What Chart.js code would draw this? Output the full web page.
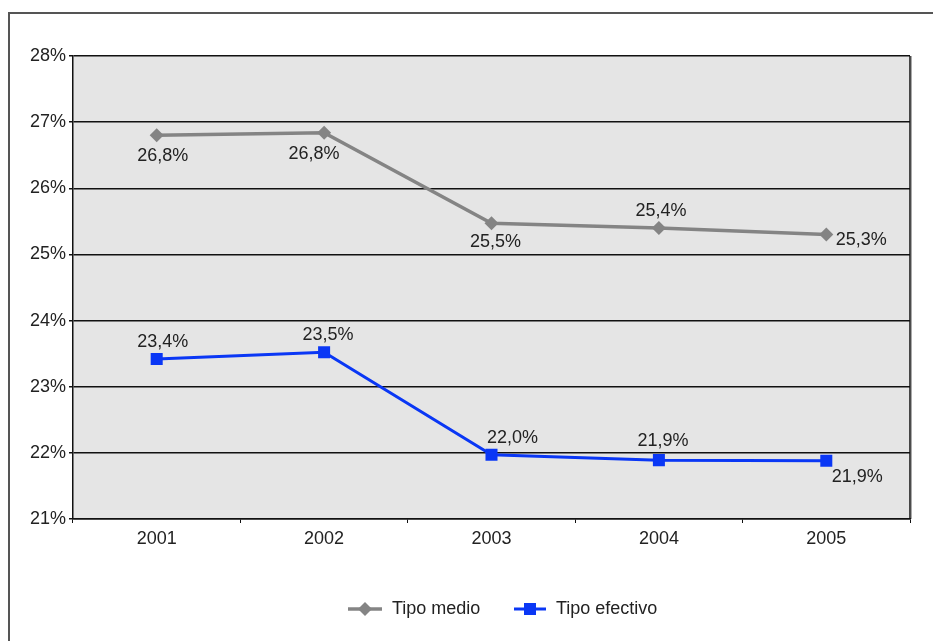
<!DOCTYPE html>
<html>
<head>
<meta charset="utf-8">
<script src="https://cdn.jsdelivr.net/npm/chart.js@4/dist/chart.umd.min.js"></script>
<style>
    body { margin: 0; background: #fff; overflow: hidden; }
</style>
</head>
<body>
<canvas id="tiposChart" width="933" height="641"></canvas>
<script>
// Data
const years = ['2001', '2002', '2003', '2004', '2005'];
const tipoMedio = [26.80, 26.84, 25.47, 25.40, 25.30];
const tipoEfectivo = [23.42, 23.52, 21.97, 21.89, 21.88];
const yTicks = [21, 22, 23, 24, 25, 26, 27, 28];

const FONT = '"Liberation Sans", Arial, sans-serif';
const GRAY = '#848484';
const BLUE = '#0a37f5';

// where each value label sits relative to its point
const labelPlacement = [
    [[6, 21], [-10, 21], [4, 19], [2, -17], [35, 5]],
    [[6, -17], [4, -17], [21, -17], [4, -19], [31, 16]]
];

function fmt(v) {
    return v.toFixed(1).replace('.', ',') + '%';
}

// outer frame, grey plot background and right edge
const plotBackground = {
    id: 'plotBackground',
    beforeDraw(chart) {
        const { ctx, chartArea: a, width, height } = chart;
        ctx.save();
        ctx.strokeStyle = '#555';
        ctx.lineWidth = 2;
        ctx.beginPath();
        ctx.moveTo(9, height + 5);
        ctx.lineTo(9, 13);
        ctx.lineTo(width + 5, 13);
        ctx.stroke();
        ctx.fillStyle = '#e5e5e5';
        ctx.fillRect(a.left, a.top, a.right - a.left, a.bottom - a.top);
        ctx.restore();
    },
    afterDatasetsDraw(chart) {
        const { ctx, chartArea: a } = chart;
        ctx.save();
        ctx.strokeStyle = '#aaa';
        ctx.lineWidth = 1;
        ctx.beginPath();
        ctx.moveTo(a.right + 1.5, a.top);
        ctx.lineTo(a.right + 1.5, a.bottom);
        ctx.stroke();
        ctx.strokeStyle = '#111';
        ctx.lineWidth = 1.5;
        ctx.beginPath();
        ctx.moveTo(a.right, a.top);
        ctx.lineTo(a.right, a.bottom);
        ctx.stroke();
        ctx.restore();
    }
};

// value labels next to the points
const valueLabels = {
    id: 'valueLabels',
    afterDatasetsDraw(chart) {
        const ctx = chart.ctx;
        ctx.save();
        ctx.font = '18px ' + FONT;
        ctx.fillStyle = '#222';
        ctx.textAlign = 'center';
        ctx.textBaseline = 'middle';
        chart.data.datasets.forEach((ds, i) => {
            chart.getDatasetMeta(i).data.forEach((pt, j) => {
                const off = labelPlacement[i][j];
                ctx.fillText(fmt(ds.data[j]), pt.x + off[0], pt.y + off[1]);
            });
        });
        ctx.restore();
    }
};

// legend with line + marker samples
const lineLegend = {
    id: 'lineLegend',
    afterDraw(chart) {
        const ctx = chart.ctx;
        const y = 609;
        const items = [
            { x: 348, text: 'Tipo medio', ds: chart.data.datasets[0], w: 34 },
            { x: 514, text: 'Tipo efectivo', ds: chart.data.datasets[1], w: 32 }
        ];
        ctx.save();
        ctx.font = '18px ' + FONT;
        ctx.textBaseline = 'middle';
        items.forEach(it => {
            ctx.strokeStyle = it.ds.borderColor;
            ctx.lineWidth = it.ds.borderWidth;
            ctx.beginPath();
            ctx.moveTo(it.x, y);
            ctx.lineTo(it.x + it.w, y);
            ctx.stroke();
            ctx.fillStyle = it.ds.borderColor;
            Chart.helpers.drawPoint(ctx, {
                pointStyle: it.ds.pointStyle,
                radius: it.ds.pointRadius,
                borderWidth: 0
            }, it.x + it.w / 2, y);
            ctx.fillStyle = '#222';
            ctx.fillText(it.text, it.x + it.w + 10, y);
        });
        ctx.restore();
    }
};

new Chart(document.getElementById('tiposChart'), {
    type: 'line',
    data: {
        labels: years,
        datasets: [{
            label: 'Tipo medio',
            data: tipoMedio,
            borderColor: GRAY,
            backgroundColor: GRAY,
            borderWidth: 3.5,
            pointStyle: 'rectRot',
            pointRadius: 7,
            pointBorderWidth: 0,
            tension: 0
        }, {
            label: 'Tipo efectivo',
            data: tipoEfectivo,
            borderColor: BLUE,
            backgroundColor: BLUE,
            borderWidth: 3,
            pointStyle: 'rect',
            pointRadius: 8.5,
            pointBorderWidth: 0,
            tension: 0
        }]
    },
    options: {
        responsive: false,
        animation: false,
        layout: { padding: { left: 0, right: 23, top: 56, bottom: 82 } },
        plugins: {
            legend: { display: false },
            tooltip: { enabled: false }
        },
        scales: {
            x: {
                offset: true,
                grid: {
                    offset: true,
                    drawOnChartArea: false,
                    drawTicks: true,
                    tickLength: 4,
                    color: '#111'
                },
                border: { color: '#111', width: 1.5 },
                ticks: {
                    color: '#222',
                    font: { family: FONT, size: 18 },
                    padding: 5
                },
                afterFit(scale) { scale.height = 40; }
            },
            y: {
                min: 21,
                max: 28,
                afterBuildTicks(scale) {
                    scale.ticks = yTicks.map(v => ({ value: v }));
                },
                grid: {
                    color: '#111',
                    lineWidth: 1.5,
                    tickLength: 4
                },
                border: { color: '#111', width: 1.5 },
                ticks: {
                    color: '#222',
                    font: { family: FONT, size: 18 },
                    padding: 3,
                    callback: v => v + '%'
                },
                afterFit(scale) { scale.width = 73; }
            }
        }
    },
    plugins: [plotBackground, valueLabels, lineLegend]
});
</script>
</body>
</html>
